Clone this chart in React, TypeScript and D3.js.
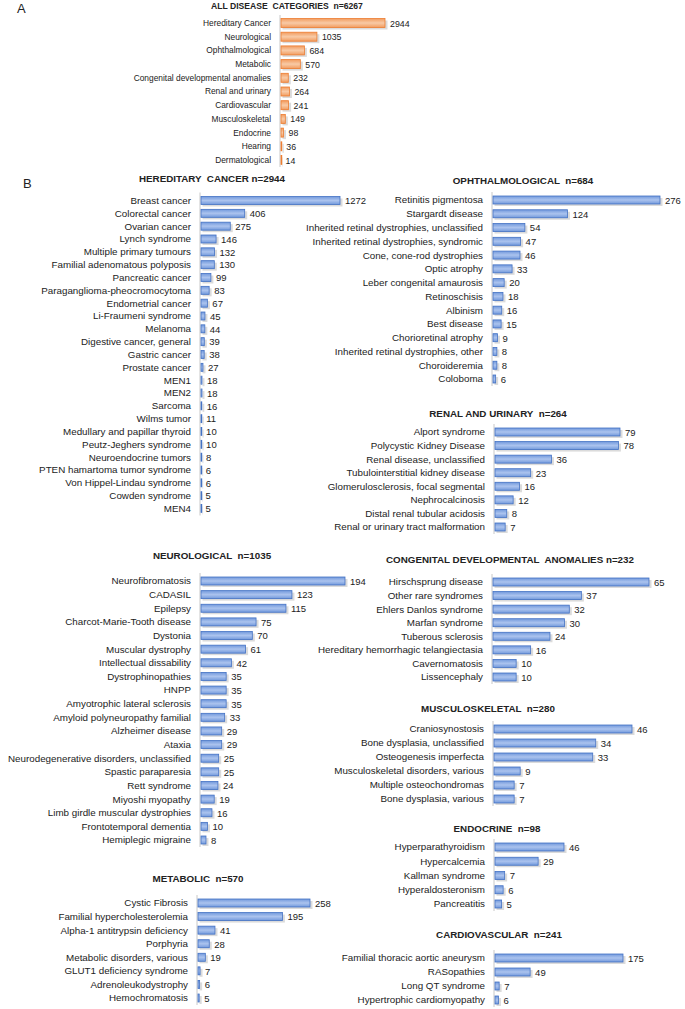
import { useEffect, useRef } from "react";
import * as d3 from "d3";

// ---- data ----
const allNames = [
  "Hereditary Cancer", "Neurological", "Ophthalmological", "Metabolic",
  "Congenital developmental anomalies", "Renal and urinary", "Cardiovascular",
  "Musculoskeletal", "Endocrine", "Hearing", "Dermatological",
];
const allValues = [2944, 1035, 684, 570, 232, 264, 241, 149, 98, 36, 14];

const cancerNames = [
  "Breast cancer", "Colorectal cancer", "Ovarian cancer", "Lynch syndrome",
  "Multiple primary tumours", "Familial adenomatous polyposis", "Pancreatic cancer",
  "Paraganglioma-pheocromocytoma", "Endometrial cancer", "Li-Fraumeni syndrome",
  "Melanoma", "Digestive cancer, general", "Gastric cancer", "Prostate cancer",
  "MEN1", "MEN2", "Sarcoma", "Wilms tumor", "Medullary and papillar thyroid",
  "Peutz-Jeghers syndrome", "Neuroendocrine tumors", "PTEN hamartoma tumor syndrome",
  "Von Hippel-Lindau syndrome", "Cowden syndrome", "MEN4",
];
const cancerValues = [1272, 406, 275, 146, 132, 130, 99, 83, 67, 45, 44, 39, 38, 27, 18, 18, 16, 11, 10, 10, 8, 6, 6, 5, 5];

const ophthNames = [
  "Retinitis pigmentosa", "Stargardt disease", "Inherited retinal dystrophies, unclassified",
  "Inherited retinal dystrophies, syndromic", "Cone, cone-rod dystrophies", "Optic atrophy",
  "Leber congenital amaurosis", "Retinoschisis", "Albinism", "Best disease",
  "Chorioretinal atrophy", "Inherited retinal dystrophies, other", "Choroideremia", "Coloboma",
];
const ophthValues = [276, 124, 54, 47, 46, 33, 20, 18, 16, 15, 9, 8, 8, 6];

const renalNames = [
  "Alport syndrome", "Polycystic Kidney Disease", "Renal disease, unclassified",
  "Tubulointerstitial kidney disease", "Glomerulosclerosis, focal segmental",
  "Nephrocalcinosis", "Distal renal tubular acidosis", "Renal or urinary tract malformation",
];
const renalValues = [79, 78, 36, 23, 16, 12, 8, 7];

const neuroNames = [
  "Neurofibromatosis", "CADASIL", "Epilepsy", "Charcot-Marie-Tooth disease", "Dystonia",
  "Muscular dystrophy", "Intellectual dissability", "Dystrophinopathies", "HNPP",
  "Amyotrophic lateral sclerosis", "Amyloid polyneuropathy familial", "Alzheimer disease",
  "Ataxia", "Neurodegenerative disorders, unclassified", "Spastic paraparesia",
  "Rett syndrome", "Miyoshi myopathy", "Limb girdle muscular dystrophies",
  "Frontotemporal dementia", "Hemiplegic migraine",
];
const neuroValues = [194, 123, 115, 75, 70, 61, 42, 35, 35, 35, 33, 29, 29, 25, 25, 24, 19, 16, 10, 8];

const metabNames = [
  "Cystic Fibrosis", "Familial hypercholesterolemia", "Alpha-1 antitrypsin deficiency",
  "Porphyria", "Metabolic disorders, various", "GLUT1 deficiency syndrome",
  "Adrenoleukodystrophy", "Hemochromatosis",
];
const metabValues = [258, 195, 41, 28, 19, 7, 6, 5];

const congNames = [
  "Hirschsprung disease", "Other rare syndromes", "Ehlers Danlos syndrome", "Marfan syndrome",
  "Tuberous sclerosis", "Hereditary hemorrhagic telangiectasia", "Cavernomatosis", "Lissencephaly",
];
const congValues = [65, 37, 32, 30, 24, 16, 10, 10];

const muscNames = [
  "Craniosynostosis", "Bone dysplasia, unclassified", "Osteogenesis imperfecta",
  "Musculoskeletal disorders, various", "Multiple osteochondromas", "Bone dysplasia, various",
];
const muscValues = [46, 34, 33, 9, 7, 7];

const endoNames = ["Hyperparathyroidism", "Hypercalcemia", "Kallman syndrome", "Hyperaldosteronism", "Pancreatitis"];
const endoValues = [46, 29, 7, 6, 5];

const cardioNames = ["Familial thoracic aortic aneurysm", "RASopathies", "Long QT syndrome", "Hypertrophic cardiomyopathy"];
const cardioValues = [175, 49, 7, 6];

// ---- layout per panel ----
interface Panel {
  title: string;
  names: string[];
  values: number[];
  titleX: number;
  titleY: number;
  axisX: number;
  y0: number;
  y1: number;
  maxPx: number;
  barH: number;
  fs: number;
  titleFs: number;
  orange?: boolean;
}

const panels: Panel[] = [
  { title: "ALL DISEASE  CATEGORIES  n=6267", names: allNames, values: allValues, titleX: 287, titleY: 9, axisX: 280, y0: 23, y1: 160, maxPx: 105, barH: 9, fs: 8.4, titleFs: 8.6, orange: true },
  { title: "HEREDITARY  CANCER n=2944", names: cancerNames, values: cancerValues, titleX: 212, titleY: 182, axisX: 200, y0: 200.5, y1: 508.5, maxPx: 140, barH: 8, fs: 9.8, titleFs: 9.8 },
  { title: "OPHTHALMOLOGICAL  n=684", names: ophthNames, values: ophthValues, titleX: 523, titleY: 184, axisX: 492, y0: 200, y1: 379, maxPx: 168, barH: 8, fs: 9.8, titleFs: 9.8 },
  { title: "RENAL AND URINARY  n=264", names: renalNames, values: renalValues, titleX: 498, titleY: 417, axisX: 494, y0: 432, y1: 527, maxPx: 126, barH: 8, fs: 9.8, titleFs: 9.8 },
  { title: "NEUROLOGICAL  n=1035", names: neuroNames, values: neuroValues, titleX: 212, titleY: 559, axisX: 200, y0: 581, y1: 840, maxPx: 145, barH: 8, fs: 9.8, titleFs: 9.8 },
  { title: "METABOLIC  n=570", names: metabNames, values: metabValues, titleX: 198, titleY: 882, axisX: 197, y0: 903, y1: 998, maxPx: 113, barH: 8, fs: 9.8, titleFs: 9.8 },
  { title: "CONGENITAL DEVELOPMENTAL  ANOMALIES n=232", names: congNames, values: congValues, titleX: 510, titleY: 563, axisX: 492, y0: 582, y1: 677, maxPx: 157, barH: 8, fs: 9.8, titleFs: 9.8 },
  { title: "MUSCULOSKELETAL  n=280", names: muscNames, values: muscValues, titleX: 488, titleY: 712, axisX: 493, y0: 729, y1: 799, maxPx: 139, barH: 8, fs: 9.8, titleFs: 9.8 },
  { title: "ENDOCRINE  n=98", names: endoNames, values: endoValues, titleX: 497, titleY: 832, axisX: 494, y0: 847, y1: 904, maxPx: 70, barH: 8, fs: 9.8, titleFs: 9.8 },
  { title: "CARDIOVASCULAR  n=241", names: cardioNames, values: cardioValues, titleX: 499, titleY: 938, axisX: 494, y0: 958, y1: 1000, maxPx: 129, barH: 8, fs: 9.8, titleFs: 9.8 },
];

const FONT = "'Liberation Sans', Arial, sans-serif";

export default function App() {
  const svgRef = useRef<SVGSVGElement>(null);

  useEffect(() => {
    if (!svgRef.current) return;
    const svg = d3.select(svgRef.current);
    svg.selectAll("*").remove();

    const defs = svg.append("defs");
    const grad = (id: string, a: string, b: string) => {
      const g = defs.append("linearGradient").attr("id", id).attr("x1", 0).attr("x2", 0).attr("y1", 0).attr("y2", 1);
      g.append("stop").attr("offset", "0%").attr("stop-color", a);
      g.append("stop").attr("offset", "50%").attr("stop-color", b);
      g.append("stop").attr("offset", "100%").attr("stop-color", a);
    };
    grad("gBlue", "#7299dc", "#abc3ee");
    grad("gOrange", "#f29c5f", "#f8caa6");

    svg.append("text").attr("x", 17).attr("y", 13).attr("font-family", FONT).attr("font-size", 13).attr("fill", "#222").text("A");
    svg.append("text").attr("x", 23).attr("y", 188).attr("font-family", FONT).attr("font-size", 13).attr("fill", "#222").text("B");

    panels.forEach((p) => {
      const g = svg.append("g");
      const max = d3.max(p.values) ?? 1;
      const x = d3.scaleLinear().domain([0, max]).range([p.axisX, p.axisX + p.maxPx]);
      const y = d3.scalePoint<number>().domain(p.values.map((_, i) => i)).range([p.y0, p.y1]);

      g.append("text")
        .attr("x", p.titleX)
        .attr("y", p.titleY)
        .attr("text-anchor", "middle")
        .attr("font-family", FONT)
        .attr("font-size", p.titleFs)
        .attr("font-weight", "bold")
        .attr("fill", "#222")
        .style("white-space", "pre")
        .text(p.title);

      g.append("line")
        .attr("x1", p.axisX)
        .attr("x2", p.axisX)
        .attr("y1", p.y0 - 8)
        .attr("y2", p.y1 + 7)
        .attr("stroke", "#c8c8c8")
        .attr("stroke-width", 1);

      const rows = g.selectAll("g.row").data(p.values).join("g").attr("class", "row");

      // soft drop shadow
      rows
        .append("rect")
        .attr("x", p.axisX + 2.5)
        .attr("y", (_, i) => y(i)! - p.barH / 2 + 2)
        .attr("width", (d) => Math.max(0, x(d) - p.axisX))
        .attr("height", p.barH)
        .attr("fill", "#bdbdbd")
        .attr("opacity", 0.55);

      rows
        .append("rect")
        .attr("x", p.axisX + 1)
        .attr("y", (_, i) => y(i)! - p.barH / 2)
        .attr("width", (d) => Math.max(0.8, x(d) - p.axisX - 1))
        .attr("height", p.barH)
        .attr("fill", p.orange ? "url(#gOrange)" : "url(#gBlue)")
        .attr("stroke", p.orange ? "#ed7d31" : "#4472c4")
        .attr("stroke-width", 0.8);

      rows
        .append("text")
        .attr("x", p.axisX - 9)
        .attr("y", (_, i) => y(i)!)
        .attr("dy", "0.35em")
        .attr("text-anchor", "end")
        .attr("font-family", FONT)
        .attr("font-size", p.fs)
        .attr("fill", "#222")
        .text((_, i) => p.names[i]);

      rows
        .append("text")
        .attr("x", (d) => x(d) + 5)
        .attr("y", (_, i) => y(i)! + 0.5)
        .attr("dy", "0.35em")
        .attr("font-family", FONT)
        .attr("font-size", p.orange ? 8.8 : 9.5)
        .attr("fill", "#222")
        .text((d) => d);
    });
  }, []);

  return (
    <svg
      ref={svgRef}
      width={685}
      height={1009}
      style={{ position: "absolute", left: 0, top: 0, background: "#fff" }}
    />
  );
}
